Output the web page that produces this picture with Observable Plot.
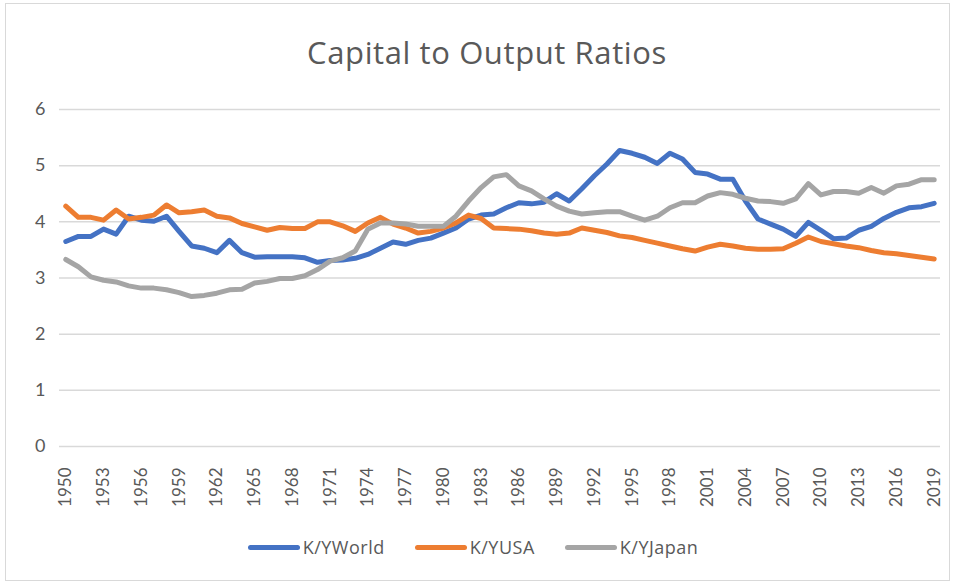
<!DOCTYPE html>
<html>
<head>
<meta charset="utf-8">
<script src="https://cdn.jsdelivr.net/npm/d3@7"></script>
<script src="https://cdn.jsdelivr.net/npm/@observablehq/plot@0.6"></script>
<style>
  html, body { margin: 0; padding: 0; background: #fff; }
  #frame { position: relative; width: 958px; height: 585px; overflow: hidden; font-family: "Open Sans", Lato, sans-serif; color: #595959; }
  #border { position: absolute; left: 5px; top: 3px; width: 945px; height: 578px; border: 1px solid #d9d9d9; box-sizing: border-box; }
  #title { position: absolute; left: 8px; width: 958px; top: 31px; text-align: center; font-size: 31px; letter-spacing: 0.6px; color: #595959; }
  #chart { position: absolute; left: 0; top: 80px; }
  #legend { position: absolute; top: 535px; left: -6px; width: 958px; display: flex; justify-content: center; gap: 30px; font-size: 18px; letter-spacing: 0.5px; color: #595959; }
  .item { display: flex; align-items: center; }
  .sw { width: 52px; height: 5px; border-radius: 3px; margin-right: 3px; }
</style>
</head>
<body>
<div id="frame">
  <div id="border"></div>
  <div id="title">Capital to Output Ratios</div>
  <div id="chart"></div>
  <div id="legend"></div>
</div>
<script>
const years = d3.range(1950, 2020);
const seriesNames = ["K/YWorld", "K/YUSA", "K/YJapan"];
const seriesColors = ["#4472C4", "#ED7D31", "#A5A5A5"];
const yTicks = [0, 1, 2, 3, 4, 5, 6];

const world = [
  3.65, 3.74, 3.74, 3.87, 3.78, 4.10, 4.03, 4.01, 4.10, 3.83,
  3.57, 3.53, 3.45, 3.67, 3.45, 3.37, 3.38, 3.38, 3.38, 3.36,
  3.28, 3.31, 3.32, 3.35, 3.42, 3.53, 3.64, 3.60, 3.67, 3.71,
  3.80, 3.89, 4.05, 4.12, 4.14, 4.25, 4.34, 4.32, 4.35, 4.50,
  4.37, 4.59, 4.82, 5.03, 5.27, 5.22, 5.15, 5.04, 5.22, 5.12,
  4.88, 4.85, 4.76, 4.76, 4.37, 4.05, 3.96, 3.87, 3.74, 3.99,
  3.85, 3.70, 3.71, 3.85, 3.92, 4.06, 4.17, 4.25, 4.27, 4.33
];
const usa = [
  4.28, 4.08, 4.08, 4.03, 4.21, 4.05, 4.08, 4.12, 4.30, 4.16,
  4.18, 4.21, 4.10, 4.07, 3.97, 3.91, 3.85, 3.90, 3.88, 3.88,
  4.00, 4.00, 3.93, 3.83, 3.98, 4.08, 3.96, 3.89, 3.80, 3.83,
  3.89, 3.98, 4.12, 4.06, 3.89, 3.88, 3.87, 3.84, 3.80, 3.78,
  3.80, 3.89, 3.85, 3.81, 3.75, 3.72, 3.67, 3.62, 3.57, 3.52,
  3.48, 3.55, 3.60, 3.57, 3.53, 3.51, 3.51, 3.52, 3.62, 3.73,
  3.65, 3.61, 3.57, 3.54, 3.49, 3.45, 3.43, 3.40, 3.37, 3.34
];
const japan = [
  3.33, 3.20, 3.02, 2.96, 2.93, 2.86, 2.82, 2.82, 2.79, 2.74,
  2.67, 2.69, 2.73, 2.79, 2.80, 2.91, 2.94, 2.99, 2.99, 3.04,
  3.15, 3.30, 3.36, 3.48, 3.87, 3.98, 3.98, 3.96, 3.92, 3.92,
  3.92, 4.10, 4.37, 4.61, 4.80, 4.84, 4.64, 4.55, 4.41, 4.28,
  4.19, 4.14, 4.16, 4.18, 4.18, 4.10, 4.03, 4.10, 4.25, 4.34,
  4.34, 4.46, 4.52, 4.49, 4.42, 4.37, 4.36, 4.33, 4.41, 4.68,
  4.48, 4.54, 4.54, 4.51, 4.61, 4.51, 4.64, 4.67, 4.75, 4.75
];

const seriesValues = [world, usa, japan];
const data = [];
seriesNames.forEach((name, s) => {
  years.forEach((yr, i) => data.push({ year: yr, value: seriesValues[s][i], series: name }));
});
const xTicks = years.filter((d, i) => i % 3 === 0);

const chart = Plot.plot({
  width: 958,
  height: 440,
  marginLeft: 59,
  marginRight: 18,
  marginTop: 29,
  marginBottom: 74,
  style: { fontFamily: "Lato, 'Open Sans', sans-serif", fontSize: "17px", color: "#595959", background: "transparent" },
  x: { type: "point", domain: years, padding: 0.5, label: null },
  y: { domain: [0, 6], label: null },
  color: { domain: seriesNames, range: seriesColors },
  marks: [
    Plot.gridY(yTicks, { stroke: "#d9d9d9", strokeOpacity: 1, strokeWidth: 1.5 }),
    Plot.axisY({ ticks: yTicks, tickSize: 0, tickPadding: 14, tickFormat: d => String(d), label: null, fill: "#595959", fontSize: 18 }),
    Plot.axisX({ ticks: xTicks, tickSize: 0, tickPadding: 21, tickRotate: -90, tickFormat: d => String(d), label: null, fill: "#595959", fontSize: 17 }),
    Plot.line(data, { x: "year", y: "value", stroke: "series", z: "series", strokeWidth: 5, strokeLinejoin: "round", strokeLinecap: "round" })
  ]
});
document.getElementById("chart").appendChild(chart);

const legend = document.getElementById("legend");
seriesNames.forEach((name, i) => {
  const item = document.createElement("div");
  item.className = "item";
  const sw = document.createElement("div");
  sw.className = "sw";
  sw.style.background = seriesColors[i];
  const label = document.createElement("span");
  label.textContent = name;
  item.appendChild(sw);
  item.appendChild(label);
  legend.appendChild(item);
});
</script>
</body>
</html>
